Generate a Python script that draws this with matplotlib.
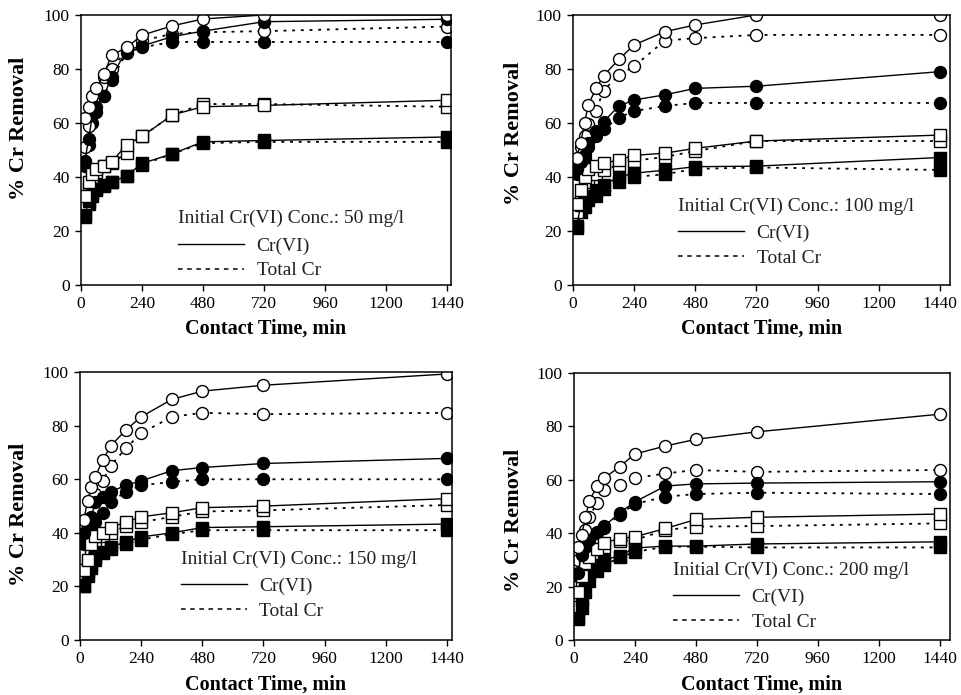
import matplotlib
matplotlib.use("Agg")
import matplotlib.pyplot as plt
from matplotlib.lines import Line2D

plt.rcParams['font.family'] = ['Liberation Serif', 'DejaVu Serif']

# sampling times (min)
time = [15, 30, 45, 60, 90, 120, 180, 240, 360, 480, 720, 1440]

# % removal, one group per initial Cr(VI) concentration
# oc = open circles, fc = filled circles, os = open squares, fs = filled squares
# _s = Cr(VI) (solid line), _d = Total Cr (dotted line)
c50_oc_s = [62, 66, 70, 73, 78, 85, 88, 92.5, 96, 98.5, 100, 100]
c50_oc_d = [51, 59, 65, 70, 77, 80, 87, 90.5, 93, 93.6, 94, 95.7]
c50_fc_s = [46, 54, 63, 66, 70, 77, 87, 88.5, 92, 94, 97.5, 98.4]
c50_fc_d = [44, 52, 60, 64, 70, 76, 86, 88, 90, 90, 90, 90]
c50_os_s = [33, 38, 41, 43, 44, 45.5, 52, 55, 63, 66, 66.5, 68.4]
c50_os_d = [30, 36, 40, 42, 44, 45, 49, 55, 63, 67, 67, 66]
c50_fs_s = [26, 31, 34, 35.6, 37, 38, 40.5, 45, 48.6, 53, 53.5, 54.8]
c50_fs_d = [25, 30, 33, 35, 36.5, 38, 40.5, 44.5, 48.6, 52.5, 53, 53]

c100_oc_s = [47, 52.7, 60, 66.7, 72.8, 77.5, 83.6, 88.9, 93.8, 96.3, 100, 100]
c100_oc_d = [44, 51, 55, 59.6, 64.6, 72, 77.8, 81, 90.5, 91.4, 92.6, 92.6]
c100_fc_s = [43, 45.5, 48, 52.7, 57, 60.5, 66.3, 68.5, 70.4, 72.8, 73.6, 79]
c100_fc_d = [41, 44, 47, 51, 55, 57.7, 62, 64.4, 66.3, 67.4, 67.4, 67.4]
c100_os_s = [30, 35, 40, 43, 44, 45, 46.3, 48, 48.8, 50.6, 53.3, 55.5]
c100_os_d = [27, 31, 36, 38, 41, 42.6, 44.4, 46, 47.4, 49.6, 53.3, 53.3]
c100_fs_s = [22, 29.6, 31, 33, 35, 37, 40, 41.4, 42.5, 43.8, 44, 47.2]
c100_fs_d = [21, 27, 29, 31.5, 33, 35.5, 38, 40, 41, 43, 43.5, 42.6]

c150_oc_s = [44.8, 52, 57, 61, 67.2, 72.4, 78.4, 83.3, 89.8, 92.9, 95.1, 99.3]
c150_oc_d = [40, 45, 52, 54.7, 59.4, 65, 71.6, 77.2, 83.3, 84.8, 84.3, 84.8]
c150_fc_s = [40, 43, 46, 51.6, 53.5, 55.3, 57.8, 59.4, 63.2, 64.4, 65.9, 67.8]
c150_fc_d = [36, 40, 42, 44, 47.3, 51.6, 55.3, 57.8, 59, 60, 60, 60]
c150_os_s = [26, 30, 36, 39, 40, 42, 44, 46, 47.5, 49.4, 50, 52.8]
c150_os_d = [25, 28, 33, 36, 39, 40, 42.5, 44, 46, 48, 48.4, 50.4]
c150_fs_s = [20, 25.5, 28, 31, 33, 34.6, 36.7, 38.5, 40, 42, 42.3, 43.3]
c150_fs_d = [20, 24, 27, 30, 32.5, 34, 36, 37.5, 39.5, 41, 41, 41]

c200_oc_s = [35, 39.3, 46, 52, 57.6, 60.7, 65, 69.7, 72.7, 75.2, 78, 84.6]
c200_oc_d = [30, 35, 41.2, 46.2, 51.2, 56.3, 58, 60.7, 62.4, 63.7, 63, 63.7]
c200_fc_s = [25, 32, 35, 37.5, 40.5, 42.7, 47.7, 51.8, 57.7, 58.5, 58.8, 59.3]
c200_fc_d = [24, 30, 34, 37, 40, 42, 47, 51, 53.7, 54.7, 55.2, 54.7]
c200_os_s = [18, 24, 29, 31, 34, 36.5, 38, 38.7, 41.8, 45.2, 46, 47.2]
c200_os_d = [17, 22, 27, 29.4, 32, 35, 37, 37.5, 41.2, 42.5, 42.7, 43.7]
c200_fs_s = [8.2, 15, 22, 25.6, 28, 30, 31.6, 34.5, 35.2, 35.2, 36, 36.8]
c200_fs_d = [8, 12, 18, 22, 26, 28, 31, 33, 35, 35, 34.7, 34.7]

conc_labels = ['50', '100', '150', '200']
x_ticks = [0, 240, 480, 720, 960, 1200, 1440]
y_ticks = [0, 20, 40, 60, 80, 100]

panels = [
    (c50_oc_s, c50_oc_d, c50_fc_s, c50_fc_d, c50_os_s, c50_os_d, c50_fs_s, c50_fs_d),
    (c100_oc_s, c100_oc_d, c100_fc_s, c100_fc_d, c100_os_s, c100_os_d, c100_fs_s, c100_fs_d),
    (c150_oc_s, c150_oc_d, c150_fc_s, c150_fc_d, c150_os_s, c150_os_d, c150_fs_s, c150_fs_d),
    (c200_oc_s, c200_oc_d, c200_fc_s, c200_fc_d, c200_os_s, c200_os_d, c200_fs_s, c200_fs_d),
]

# axes boxes [left, bottom, width, height] in figure fractions
boxes = [
    [0.0843, 0.590, 0.385, 0.3885],
    [0.5963, 0.590, 0.3923, 0.3885],
    [0.0832, 0.079, 0.387, 0.3856],
    [0.5973, 0.079, 0.391, 0.3842],
]
xmax = [1456, 1480, 1459, 1479]
legend_pos = [(0.262, 0.277), (0.278, 0.325), (0.271, 0.334), (0.263, 0.294)]
ylabel_pos = [(-0.14, 0.58), (-0.13, 0.56), (-0.137, 0.47), (-0.133, 0.45)]

fig = plt.figure(figsize=(9.61, 6.95), dpi=100)

ms = 8.6
dot = (0, (1.6, 3.2))
for i, series in enumerate(panels):
    ax = fig.add_axes(boxes[i])
    oc_s, oc_d, fc_s, fc_d, os_s, os_d, fs_s, fs_d = series

    # Total Cr (dotted) first so Cr(VI) sits on top
    ax.plot(time, fs_d, ls=dot, color='k', lw=1.3, marker='s', ms=ms, mfc='k', mec='k')
    ax.plot(time, os_d, ls=dot, color='k', lw=1.3, marker='s', ms=ms, mfc='white', mec='k', mew=1)
    ax.plot(time, fc_d, ls=dot, color='k', lw=1.3, marker='o', ms=ms, mfc='k', mec='k')
    ax.plot(time, oc_d, ls=dot, color='k', lw=1.3, marker='o', ms=ms, mfc='white', mec='k', mew=1)
    ax.plot(time, fs_s, ls='-', color='k', lw=1, marker='s', ms=ms, mfc='k', mec='k')
    ax.plot(time, os_s, ls='-', color='k', lw=1, marker='s', ms=ms, mfc='white', mec='k', mew=1)
    ax.plot(time, fc_s, ls='-', color='k', lw=1, marker='o', ms=ms, mfc='k', mec='k')
    ax.plot(time, oc_s, ls='-', color='k', lw=1, marker='o', ms=ms, mfc='white', mec='k', mew=1)

    ax.set_xlim(0, xmax[i])
    ax.set_ylim(0, 100)
    ax.set_xticks(x_ticks)
    ax.set_yticks(y_ticks)
    ax.tick_params(direction='out', length=4, width=1, labelsize=12.5, pad=4)
    for sp in ax.spines.values():
        sp.set_linewidth(1.1)

    ax.set_xlabel('Contact Time, min', fontsize=14.5, fontweight='bold', labelpad=5)
    ax.set_ylabel('% Cr Removal', fontsize=16, fontweight='bold')
    ax.yaxis.set_label_coords(*ylabel_pos[i])

    handles = [Line2D([], [], color='k', lw=1),
               Line2D([], [], color='k', lw=1.1, ls=(0, (3, 3)))]
    leg = ax.legend(handles, ['Cr(VI)', 'Total Cr'],
                    title='Initial Cr(VI) Conc.: %s mg/l' % conc_labels[i],
                    loc='upper left', bbox_to_anchor=legend_pos[i],
                    frameon=False, fontsize=14, title_fontsize=14,
                    handlelength=3.4, handletextpad=0.65, labelspacing=0.36,
                    borderpad=0, borderaxespad=0, alignment='left')
    leg._legend_box.sep = 7
    for t in leg.get_texts():
        t.set_color('#222222')
    leg.get_title().set_color('#222222')

fig.savefig('out.png', dpi=100)
